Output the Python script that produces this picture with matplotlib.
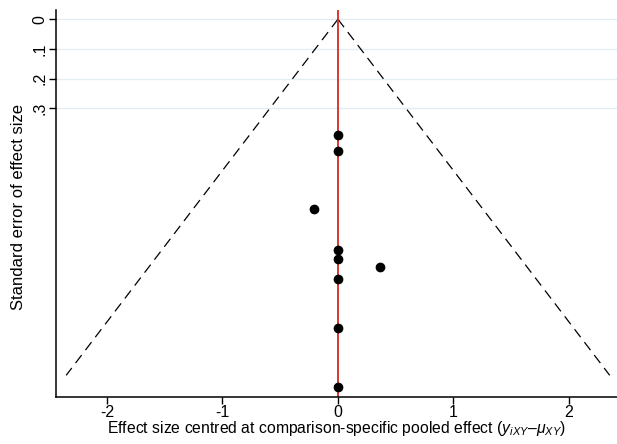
import matplotlib
matplotlib.use("Agg")
import matplotlib.pyplot as plt
import numpy as np

plt.rcParams['font.family'] = ['Liberation Sans', 'DejaVu Sans']
plt.rcParams['mathtext.fontset'] = 'custom'
plt.rcParams['mathtext.it'] = 'Liberation Sans:italic'
plt.rcParams['mathtext.rm'] = 'Liberation Sans'

effects = [0.0, 0.0, -0.21, 0.0, 0.0, 0.36, 0.0, 0.0, 0.0]
std_errors = [0.389, 0.444, 0.638, 0.778, 0.809, 0.834, 0.874, 1.040, 1.240]
yticks = [0, 0.1, 0.2, 0.3]
ytick_labels = ["0", ".1", ".2", ".3"]
xticks = [-2, -1, 0, 1, 2]
funnel_max_se = 1.2

fig = plt.figure(figsize=(6.17, 4.44), dpi=100)
ax = fig.add_axes([56/617, 1-397/444, 1-56/617, (397-10)/444])

for t in yticks:
    ax.axhline(t, color='#e3eef2', lw=1, zorder=0)

se_line = np.array([0, funnel_max_se])
ax.plot(-1.96*se_line, se_line, color='black', ls=(0, (8, 5)), lw=0.9)
ax.plot(1.96*se_line, se_line, color='black', ls=(0, (8, 5)), lw=0.9)
ax.axvline(0, color='#d42a20', lw=1.3, zorder=2)
ax.scatter(effects, std_errors, s=36, color='black', zorder=3)

ax.set_xlim(-2.44, 2.415)
ax.set_ylim(1.273, -0.031)
ax.set_xticks(xticks)
ax.set_xticklabels([str(v) for v in xticks])
ax.set_yticks(yticks)
ax.set_yticklabels(ytick_labels, rotation=90, va='center')
ax.tick_params(axis='both', direction='out', length=5, width=1, labelsize=11.5, pad=1)

ax.spines['top'].set_visible(False)
ax.spines['right'].set_visible(False)
for s in ['left', 'bottom']:
    ax.spines[s].set_linewidth(1.1)

ax.set_xlabel(r"Effect size centred at comparison-specific pooled effect (${y_{iXY}}$–${\mu_{XY}}$)",
              fontsize=11.3, labelpad=-1)
ax.set_ylabel("Standard error of effect size", fontsize=12, labelpad=5)
ax.yaxis.set_label_coords(-0.054, 0.49)

fig.savefig("out.png", dpi=100, facecolor='white')
